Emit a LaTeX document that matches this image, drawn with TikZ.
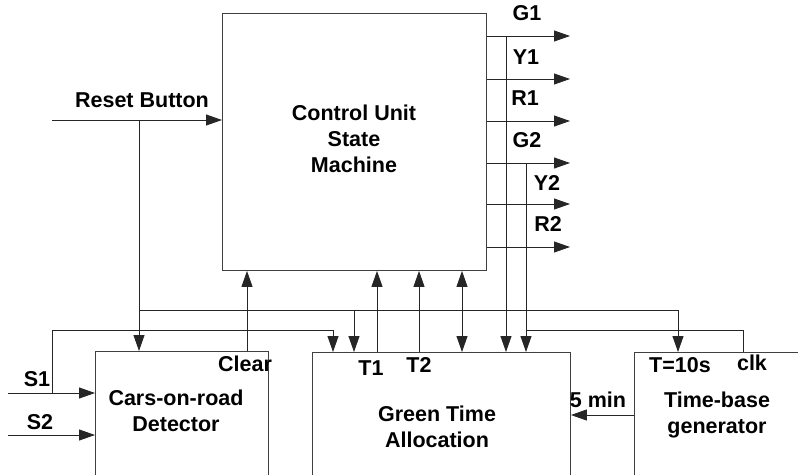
\documentclass[tikz,border=0pt]{standalone}
\usepackage{fontspec}
\setmainfont{Liberation Sans}
\usetikzlibrary{arrows.meta}

\tikzset{
  blk/.style={draw=black!75, line width=0.9pt, anchor=north west, inner sep=0pt},
  wire/.style={draw=black!85, line width=0.9pt},
  sig/.style={wire, -{Triangle[length=16pt,width=11pt]}},
  bisig/.style={wire, {Triangle[length=16pt,width=11pt]}-{Triangle[length=16pt,width=11pt]}},
  lbl/.style={font=\fontsize{21.5}{26}\selectfont\bfseries, inner sep=0pt},
  txt/.style={lbl, align=center}
}

\begin{document}
\begin{tikzpicture}[x=1pt, y=-1pt]
\clip (0,0) rectangle (798,474);
\useasboundingbox (0,0) rectangle (798,474);

% blocks
\node[blk, minimum width=264pt, minimum height=257pt] (cu) at (222,13) {};
\node[blk, minimum width=173pt, minimum height=160pt] (cod) at (95,351) {};
\node[blk, minimum width=258pt, minimum height=160pt] (gta) at (312,352) {};
\node[blk, minimum width=200pt, minimum height=160pt] (tbg) at (634,352) {};

\node[txt] (cutxt) at (354,139) {Control Unit\\State\\Machine};
\node[txt] (codtxt) at (176,411) {Cars-on-road\\Detector};
\node[txt] (gtatxt) at (437,427) {Green Time\\Allocation};
\node[txt] (tbgtxt) at (717,415) {Time-base\\generator};

% reset
\coordinate (rst) at (52,120);
\coordinate (rj) at (139,120);
\draw[sig] (rst) -- (rst -| cu.west);
\node[lbl] (rstlbl) at (142,100) {Reset Button};
\draw[sig] (rj) -- (rj |- cod.north);

% upper bus
\coordinate (b1) at (139,310);
\coordinate (tin) at (678,310);
\coordinate (bj) at (354,310);
\draw[sig] (b1) -- (tin) -- (tin |- tbg.north);
\draw[sig] (bj) -- (bj |- gta.north);

% sensors
\coordinate (s1) at (8,393);
\coordinate (s2) at (8,435);
\coordinate (s1j) at (52,393);
\coordinate (s1k) at (333,330);
\draw[sig] (s1) -- (s1 -| cod.west);
\draw[sig] (s2) -- (s2 -| cod.west);
\draw[sig] (s1j) -- (s1j |- s1k) -- (s1k) -- (s1k |- gta.north);
\node[lbl] (s1lbl) at (37,379) {S1};
\node[lbl] (s2lbl) at (40,422) {S2};

% clear
\coordinate (xclr) at (247,0);
\draw[sig] (xclr |- cod.north) -- (xclr |- cu.south);
\node[lbl] (clrlbl) at (245,364) {Clear};

% timers
\coordinate (xt1) at (377,0);
\coordinate (xt2) at (419,0);
\coordinate (xbd) at (462,0);
\draw[sig] (xt1 |- gta.north) -- (xt1 |- cu.south);
\draw[sig] (xt2 |- gta.north) -- (xt2 |- cu.south);
\draw[bisig] (xbd |- gta.north) -- (xbd |- cu.south);
\node[lbl] (t1lbl) at (371,368) {T1};
\node[lbl] (t2lbl) at (419,365) {T2};

% outputs
\foreach \y/\name in {36/G1, 79/Y1, 121/R1, 163/G2, 204/Y2, 247/R2}{
  \coordinate (o\name) at (570,\y);
  \draw[sig] (o\name -| cu.east) -- (o\name);
}
\node[lbl] (g1lbl) at (527,13) {G1};
\node[lbl] (y1lbl) at (526,57) {Y1};
\node[lbl] (r1lbl) at (525,98) {R1};
\node[lbl] (g2lbl) at (527,140) {G2};
\node[lbl] (y2lbl) at (547,183) {Y2};
\node[lbl] (r2lbl) at (548,224) {R2};

\coordinate (xg1) at (506,0);
\coordinate (xg2) at (526,0);
\draw[sig] (xg1 |- oG1) -- (xg1 |- gta.north);
\draw[sig] (xg2 |- oG2) -- (xg2 |- gta.north);

% clk
\coordinate (clk) at (743,330);
\draw[wire] (clk |- tbg.north) -- (clk) -- (xg2 |- clk);
\node[lbl] (clklbl) at (752,363) {clk};
\node[lbl] (t10lbl) at (680,365) {T=10s};

% 5 min
\coordinate (fm) at (634,415);
\draw[sig] (fm) -- (fm -| gta.east);
\node[lbl] (fmlbl) at (598,400) {5 min};
\end{tikzpicture}
\end{document}
